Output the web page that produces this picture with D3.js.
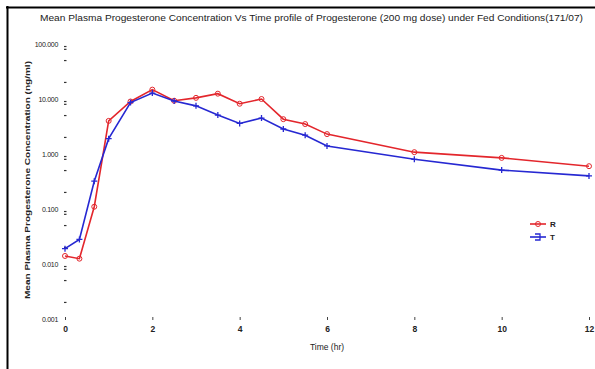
<!DOCTYPE html>
<html>
<head>
<meta charset="utf-8">
<script src="https://cdn.jsdelivr.net/npm/d3@7"></script>
<style>
  html, body { margin: 0; padding: 0; background: #fff; }
  svg { display: block; }
  text { font-family: "Liberation Sans Narrow", "Arial Narrow", "Liberation Sans", Arial, sans-serif; fill: #222; }
</style>
</head>
<body>
<div id="chart"></div>
<script>
// sampling times (hr)
const times = [0, 0.33, 0.67, 1, 1.5, 2, 2.5, 3, 3.5, 4, 4.5, 5, 5.5, 6, 8, 10, 12];
// mean plasma concentration (ng/ml), reference (R) and test (T)
const refR = [0.014, 0.0125, 0.11, 4.0, 9.0, 14.8, 9.3, 10.5, 12.5, 8.2, 10.0, 4.3, 3.5, 2.3, 1.08, 0.85, 0.6];
const testT = [0.019, 0.028, 0.32, 1.9, 8.6, 12.8, 9.2, 7.5, 5.1, 3.6, 4.5, 2.85, 2.2, 1.4, 0.8, 0.51, 0.4];
const xTicks = [0, 2, 4, 6, 8, 10, 12];
const yTicks = [0.001, 0.01, 0.1, 1, 10, 100];
const yMinor = [2, 5, 8, 9];

const W = 595, H = 369;
const svg = d3.select('#chart').append('svg')
  .attr('width', W).attr('height', H);

const x = d3.scaleLinear().domain([0, 12]).range([65, 589]);
const y = d3.scaleLog().domain([0.001, 100]).range([319, 44]);

// frame edges
svg.append('line').attr('x1', 7.5).attr('x2', 7.5).attr('y1', 6).attr('y2', H)
  .attr('stroke', '#000').attr('stroke-width', 2);
svg.append('line').attr('x1', 6).attr('x2', W).attr('y1', 7.5).attr('y2', 7.5)
  .attr('stroke', '#000').attr('stroke-width', 2);

// title
svg.append('text')
  .attr('x', 40).attr('y', 21)
  .attr('textLength', 543).attr('lengthAdjust', 'spacingAndGlyphs')
  .attr('font-size', 9.5)
  .text('Mean Plasma Progesterone Concentration Vs Time profile of Progesterone (200 mg dose) under Fed Conditions(171/07)');

// x axis: labels and small ticks, no axis line
const xAxis = d3.axisBottom(x).tickValues(xTicks).tickSize(3).tickPadding(6).tickFormat(d3.format('d'));
const gx = svg.append('g').attr('transform', 'translate(0,317)').call(xAxis);
gx.select('.domain').remove();
gx.selectAll('line').attr('stroke', '#444');
gx.selectAll('text').attr('font-size', 8.5).attr('font-weight', 'bold').attr('fill', '#222');

// y axis: labels, minor ticks as dots
const yAxis = d3.axisLeft(y).tickValues(yTicks).tickSize(0).tickPadding(7).tickFormat(d3.format('.3f'));
const gy = svg.append('g').attr('transform', 'translate(65,0)').call(yAxis);
gy.select('.domain').remove();
gy.selectAll('text').attr('font-size', 7).attr('letter-spacing', -0.3).attr('fill', '#222');

const minorVals = [];
yTicks.slice(0, -1).forEach(d => yMinor.forEach(m => minorVals.push(d * m)));
svg.append('g').selectAll('line').data(minorVals).join('line')
  .attr('x1', 64).attr('x2', 66.5)
  .attr('y1', d => y(d)).attr('y2', d => y(d))
  .attr('stroke', '#333').attr('stroke-width', 1.2);

// axis titles
svg.append('text').attr('x', 327).attr('y', 350).attr('text-anchor', 'middle')
  .attr('font-size', 8.5).text('Time (hr)');
svg.append('text')
  .attr('transform', 'translate(30,180) rotate(-90)')
  .attr('text-anchor', 'middle').attr('font-size', 8).attr('font-weight', 'bold')
  .attr('textLength', 238).attr('lengthAdjust', 'spacingAndGlyphs')
  .text('Mean Plasma Progesterone Concentration (ng/ml)');

const series = [
  { name: 'R', values: refR, color: '#e3262c', ly: 224 },
  { name: 'T', values: testT, color: '#2628d2', ly: 237 }
];

const line = d3.line().x(d => x(d[0])).y(d => y(d[1]));

series.forEach(s => {
  const pts = times.map((t, i) => [t, s.values[i]]);
  const g = svg.append('g');
  g.append('path').attr('d', line(pts))
    .attr('fill', 'none').attr('stroke', s.color).attr('stroke-width', 1.6);
  if (s.name === 'R') {
    g.selectAll('circle').data(pts).join('circle')
      .attr('cx', d => x(d[0])).attr('cy', d => y(d[1])).attr('r', 2.5)
      .attr('fill', 'none').attr('stroke', s.color).attr('stroke-width', 1);
  } else {
    g.selectAll('path.mk').data(pts).join('path').attr('class', 'mk')
      .attr('d', d => {
        const cx = x(d[0]), cy = y(d[1]);
        return `M${cx - 3},${cy}H${cx + 3}M${cx},${cy - 3}V${cy + 3}`;
      })
      .attr('stroke', s.color).attr('stroke-width', 1.3);
  }
  // legend
  svg.append('line').attr('x1', 530).attr('x2', 546).attr('y1', s.ly).attr('y2', s.ly)
    .attr('stroke', s.color).attr('stroke-width', 1.6);
  if (s.name === 'R') {
    svg.append('circle').attr('cx', 538).attr('cy', s.ly).attr('r', 2.5)
      .attr('fill', 'none').attr('stroke', s.color);
  } else {
    svg.append('path').attr('d', `M535,${s.ly - 3}H540V${s.ly + 3}H535`)
      .attr('fill', 'none').attr('stroke', s.color).attr('stroke-width', 1.3);
  }
  svg.append('text').attr('x', 550).attr('y', s.ly + 3)
    .attr('font-size', 8).attr('font-weight', 'bold').text(s.name);
});
</script>
</body>
</html>
